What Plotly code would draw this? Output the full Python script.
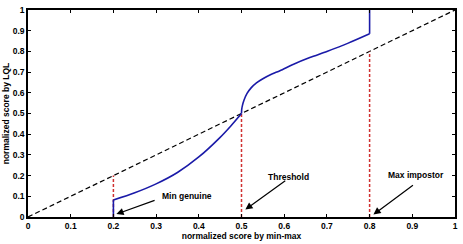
import plotly.graph_objects as go

# Data
curve_x = [0.2, 0.2, 0.25, 0.3, 0.35, 0.4, 0.45, 0.475, 0.5,
           0.5005, 0.502, 0.506, 0.513, 0.523, 0.535, 0.55, 0.57, 0.59, 0.622, 0.66, 0.7, 0.75, 0.8, 0.8]
curve_y = [0.0, 0.082, 0.117, 0.16, 0.215, 0.29, 0.385, 0.44, 0.5,
           0.52, 0.537, 0.565, 0.597, 0.625, 0.648, 0.668, 0.69, 0.707, 0.738, 0.77, 0.80, 0.84, 0.885, 1.0]
curve_breaks = [1, 8, 22]  # indices where the curve has a corner
diag_x = [0, 1]
diag_y = [0, 1]
marker_x = [0.2, 0.5, 0.8]
marker_top = [0.2, 0.5, 0.8]
labels = ["Min genuine", "Threshold", "Max impostor"]
label_x = [0.372, 0.609, 0.909]
label_y = [0.10, 0.194, 0.204]
arrow_tail_x = [0.30, 0.606, 0.905]
arrow_tail_y = [0.083, 0.18, 0.159]
arrow_head_x = [0.207, 0.509, 0.809]
arrow_head_y = [0.014, 0.036, 0.012]
tick_vals = [0, 0.1, 0.2, 0.3, 0.4, 0.5, 0.6, 0.7, 0.8, 0.9, 1]
tick_text = ["0", "0.1", "0.2", "0.3", "0.4", "0.5", "0.6", "0.7", "0.8", "0.9", "1"]

fig = go.Figure()
fig.add_trace(go.Scatter(x=diag_x, y=diag_y, mode="lines",
                         line=dict(color="black", width=1.2, dash="5px,3px")))
for mx, mt in zip(marker_x, marker_top):
    fig.add_trace(go.Scatter(x=[mx, mx], y=[0, mt], mode="lines",
                             line=dict(color="#d03030", width=1.5, dash="3px,2px")))

bounds = [0] + curve_breaks + [len(curve_x) - 1]
for a, b in zip(bounds[:-1], bounds[1:]):
    fig.add_trace(go.Scatter(x=curve_x[a:b + 1], y=curve_y[a:b + 1], mode="lines",
                             line=dict(color="#1a1aa8", width=1.6, shape="spline", smoothing=0.8)))

font = dict(family="Liberation Sans", size=8.5, color="black", weight="bold")
for t, lx, ly in zip(labels, label_x, label_y):
    fig.add_annotation(x=lx, y=ly, text=t, showarrow=False, font=font, xref="x", yref="y")
for tx, ty, hx, hy in zip(arrow_tail_x, arrow_tail_y, arrow_head_x, arrow_head_y):
    fig.add_annotation(x=hx, y=hy, ax=tx, ay=ty, xref="x", yref="y", axref="x", ayref="y",
                       text="", showarrow=True, arrowhead=2, arrowsize=1.2, arrowwidth=1.2,
                       arrowcolor="black")

axis_common = dict(range=[0, 1], tickvals=tick_vals, ticktext=tick_text, showgrid=False,
                   zeroline=False, showline=True, linecolor="black", linewidth=1.5,
                   mirror="allticks", ticks="inside", ticklen=3, tickcolor="black",
                   tickfont=font)
fig.update_xaxes(**axis_common, title=dict(text="normalized score by min-max", font=font, standoff=2))
fig.update_yaxes(**axis_common, title=dict(text="normalized score by LQL", font=font, standoff=2))

fig.update_layout(width=463, height=244, margin=dict(l=26, r=7, t=5, b=23),
                  paper_bgcolor="white", plot_bgcolor="white", showlegend=False)
fig.write_html("out.html")
